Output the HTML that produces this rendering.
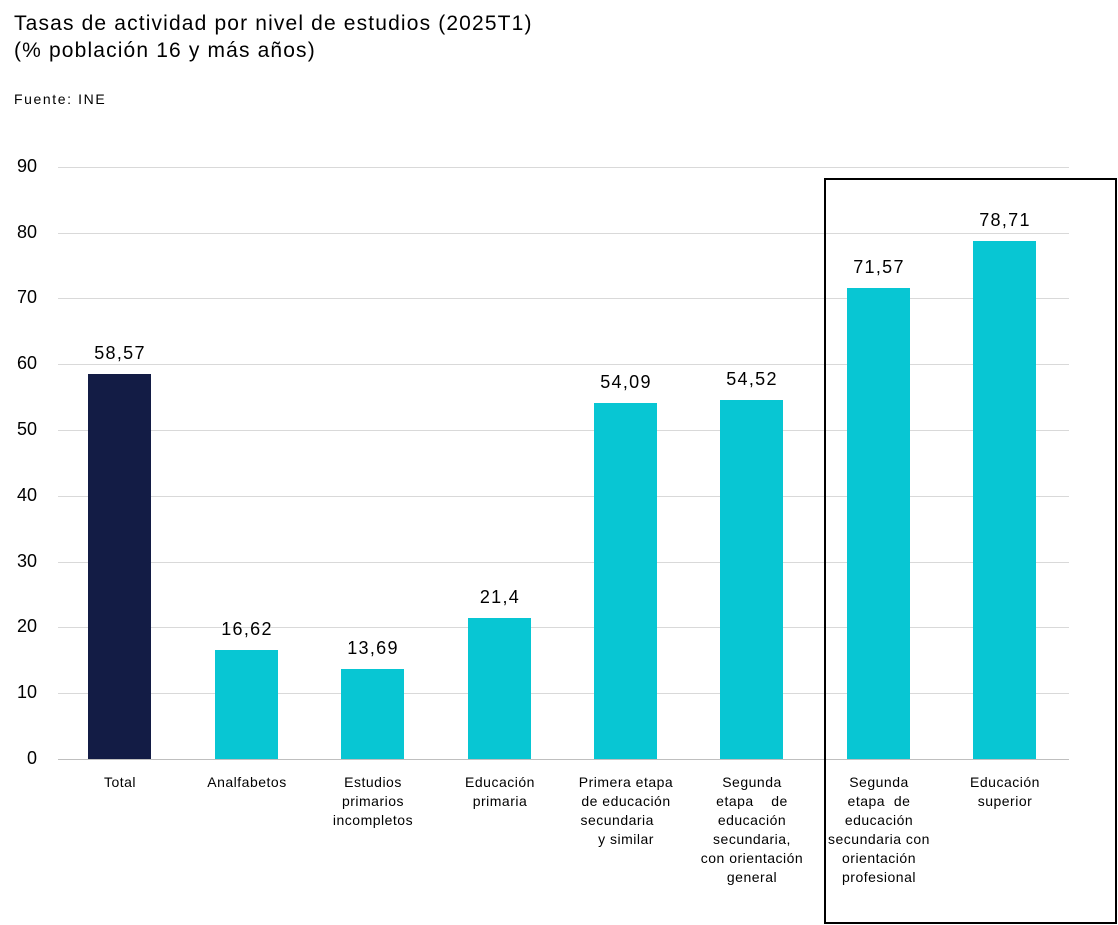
<!DOCTYPE html>
<html><head><meta charset="utf-8"><style>
body{margin:0;width:1118px;height:925px;background:#fff;font-family:"Liberation Sans",sans-serif;position:relative;overflow:hidden;color:#000}
.a{position:absolute}
.g{position:absolute;left:58px;width:1011px;height:1px;background:#d9d9d9}
.yl{position:absolute;left:0;width:37px;text-align:right;font-size:18px}
.bar{position:absolute;width:63px}
.v{position:absolute;width:120px;text-align:center;font-size:18px;letter-spacing:1.3px}
.lab{position:absolute;width:150px;text-align:center;font-size:14px;line-height:19px;top:773px;letter-spacing:0.5px}
</style></head><body>
<div class="a" style="left:14px;top:10px;font-size:21px;line-height:27px;letter-spacing:1.15px">Tasas de actividad por nivel de estudios (2025T1)<br>(% población 16 y más años)</div>
<div class="a" style="left:14px;top:91px;font-size:14px;letter-spacing:1.6px">Fuente: INE</div>

<div class="g" style="top:167px"></div><div class="g" style="top:233px"></div><div class="g" style="top:298px"></div><div class="g" style="top:364px"></div><div class="g" style="top:430px"></div><div class="g" style="top:496px"></div><div class="g" style="top:562px"></div><div class="g" style="top:627px"></div><div class="g" style="top:693px"></div><div class="g" style="top:759px;background:#bfbfbf"></div>

<div class="yl" style="top:156px">90</div><div class="yl" style="top:222px">80</div><div class="yl" style="top:287px">70</div><div class="yl" style="top:353px">60</div><div class="yl" style="top:419px">50</div><div class="yl" style="top:485px">40</div><div class="yl" style="top:551px">30</div><div class="yl" style="top:616px">20</div><div class="yl" style="top:682px">10</div><div class="yl" style="top:748px">0</div>

<div class="bar" style="left:88px;top:374px;height:385px;background:#131c45"></div>
<div class="bar" style="left:215px;top:650px;height:109px;background:#08c6d3"></div>
<div class="bar" style="left:341px;top:669px;height:90px;background:#08c6d3"></div>
<div class="bar" style="left:468px;top:618px;height:141px;background:#08c6d3"></div>
<div class="bar" style="left:594px;top:403px;height:356px;background:#08c6d3"></div>
<div class="bar" style="left:720px;top:400px;height:359px;background:#08c6d3"></div>
<div class="bar" style="left:847px;top:288px;height:471px;background:#08c6d3"></div>
<div class="bar" style="left:973px;top:241px;height:518px;background:#08c6d3"></div>

<div class="v" style="left:60px;top:343px">58,57</div>
<div class="v" style="left:187px;top:619px">16,62</div>
<div class="v" style="left:313px;top:638px">13,69</div>
<div class="v" style="left:440px;top:587px">21,4</div>
<div class="v" style="left:566px;top:372px">54,09</div>
<div class="v" style="left:692px;top:369px">54,52</div>
<div class="v" style="left:819px;top:257px">71,57</div>
<div class="v" style="left:945px;top:210px">78,71</div>

<div class="lab" style="left:45px">Total</div>
<div class="lab" style="left:172px">Analfabetos</div>
<div class="lab" style="left:298px">Estudios<br>primarios<br>incompletos</div>
<div class="lab" style="left:425px">Educación<br>primaria</div>
<div class="lab" style="left:551px">Primera etapa<br>de educación<br>secundaria&nbsp;&nbsp;&nbsp;&nbsp;<br>y similar</div>
<div class="lab" style="left:677px">Segunda<br>etapa&nbsp;&nbsp;&nbsp;&nbsp;de<br>educación<br>secundaria,<br>con orientación<br>general</div>
<div class="lab" style="left:804px">Segunda<br>etapa&nbsp;&nbsp;de<br>educación<br>secundaria con<br>orientación<br>profesional</div>
<div class="lab" style="left:930px">Educación<br>superior</div>

<div class="a" style="left:824px;top:178px;width:289px;height:742px;border:2px solid #000"></div>
</body></html>
